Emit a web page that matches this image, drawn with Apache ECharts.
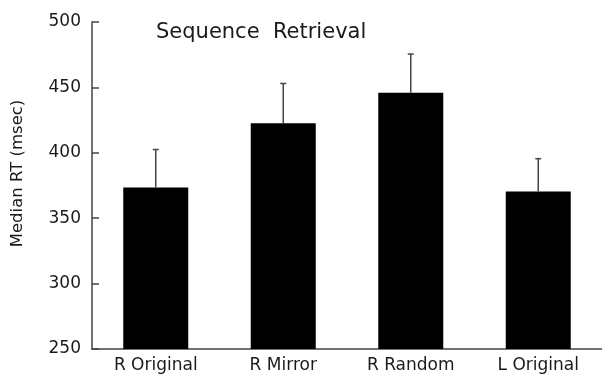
<!DOCTYPE html>
<html>
<head>
<meta charset="utf-8">
<script src="https://cdn.jsdelivr.net/npm/echarts@6/dist/echarts.min.js"></script>
<style>html,body{margin:0;padding:0;background:#fff;}#c{width:602px;height:374px;}</style>
</head>
<body>
<div id="c"></div>
<script>
var categories = ['R Original', 'R Mirror', 'R Random', 'L Original'];
var medianRT = [373.5, 422.5, 446, 370.5];
var errorSE = [29, 30.5, 29.5, 25];
var yTicks = [250, 300, 350, 400, 450, 500];

var chart = echarts.init(document.getElementById('c'), null, {renderer: 'canvas'});
var FONT = 'DejaVu Sans';
var errData = medianRT.map(function (v, i) { return [i, v, v + errorSE[i]]; });

chart.setOption({
  animation: false,
  backgroundColor: '#fff',
  title: {
    text: 'Sequence  Retrieval',
    left: 151, top: 17,
    textStyle: {fontFamily: FONT, fontSize: 21, fontWeight: 'normal', color: '#1a1a1a'}
  },
  grid: {left: 92, top: 22, width: 513, height: 327.3, containLabel: false},
  xAxis: {
    type: 'category',
    data: categories,
    axisLine: {lineStyle: {color: '#444', width: 1.5}},
    axisTick: {show: false},
    axisLabel: {fontFamily: FONT, fontSize: 17, color: '#1a1a1a', margin: 8}
  },
  yAxis: {
    type: 'value',
    min: yTicks[0], max: yTicks[yTicks.length - 1], interval: 50,
    name: 'Median RT (msec)',
    nameLocation: 'middle',
    nameGap: 66,
    nameTextStyle: {fontFamily: FONT, fontSize: 16.5, color: '#1a1a1a', padding: [0, 0, 0, 24]},
    axisLine: {show: true, lineStyle: {color: '#444', width: 1.5}},
    axisTick: {show: true, inside: true, length: 7, lineStyle: {color: '#444', width: 1.5}},
    splitLine: {show: false},
    axisLabel: {fontFamily: FONT, fontSize: 17, color: '#1a1a1a', margin: 11}
  },
  series: [
    {
      type: 'bar',
      data: medianRT,
      barWidth: 65,
      itemStyle: {color: '#000'},
      z: 2
    },
    {
      type: 'custom',
      data: errData,
      z: 3,
      renderItem: function (params, api) {
        var x = api.value(0);
        var base = api.coord([x, api.value(1)]);
        var top = api.coord([x, api.value(2)]);
        var half = 3;
        var st = {stroke: '#444', lineWidth: 1.5};
        return {
          type: 'group',
          children: [
            {type: 'line', shape: {x1: base[0], y1: base[1], x2: top[0], y2: top[1]}, style: st},
            {type: 'line', shape: {x1: top[0] - half, y1: top[1], x2: top[0] + half, y2: top[1]}, style: st}
          ]
        };
      }
    }
  ]
});
</script>
</body>
</html>
